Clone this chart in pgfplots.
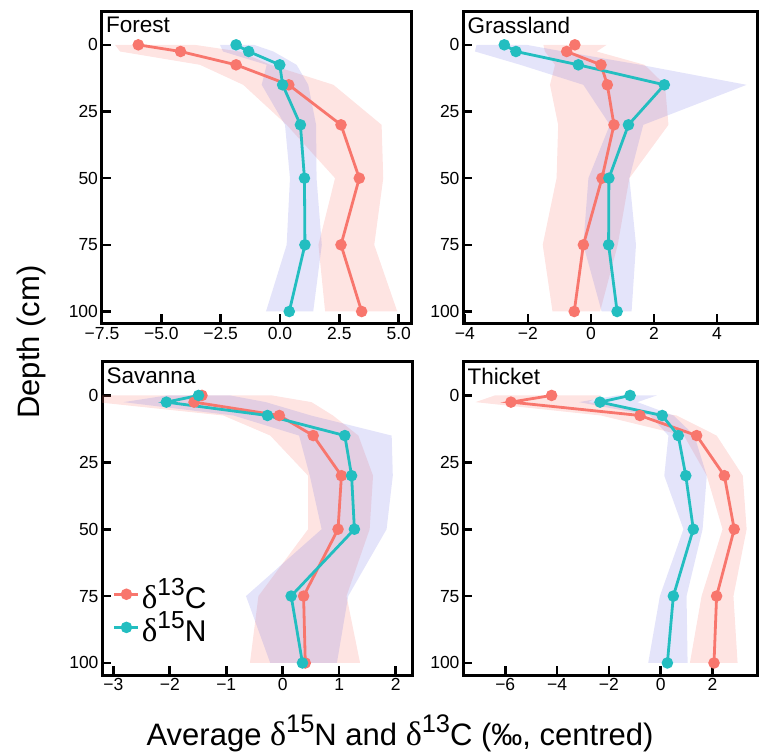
\documentclass[border=0pt]{standalone}
\usepackage{fontspec}
\setmainfont{Liberation Sans}
\newfontfamily\dfont{Liberation Serif}
\usepackage{pgfplots}
\pgfplotsset{compat=1.18}

\definecolor{cC}{RGB}{248,118,109}
\definecolor{cN}{RGB}{35,190,192}
\definecolor{bN}{RGB}{120,120,230}

\newcommand{\sups}[1]{\raisebox{0.42em}{\scalebox{0.82}{#1}}}
\newcommand{\iso}[2]{{\dfont\scalebox{1.1}{δ}}\sups{#1}#2}

\pgfplotsset{
  panel/.style={
    scale only axis, anchor=south west,
    y dir=reverse, ymin=-12.5, ymax=104.5,
    ytick={0,25,50,75,100},
    tick align=inside, tick pos=left,
    axis line style={line width=3pt},
    major tick length=9pt,
    every tick/.style={black, line width=2.6pt},
    ticklabel style={font=\fontsize{17.5}{19}\selectfont},
    /pgf/number format/assume math mode=true,
  },
  cline/.style={cC, line width=2.8pt, mark=*, mark size=4.3pt},
  nline/.style={cN, line width=2.8pt, mark=*, mark size=4.3pt},
  cband/.style={fill=cC, fill opacity=0.2, draw=none, forget plot},
  nband/.style={fill=bN, fill opacity=0.2, draw=none, forget plot},
}
\tikzset{ptitle/.style={anchor=north west, inner sep=0pt, xshift=4.5pt, yshift=-5.5pt,
    font=\fontsize{22.5}{24}\selectfont}}

\begin{document}
\begin{tikzpicture}
\path[use as bounding box] (0pt,0pt) rectangle (759pt,752pt);

% Forest
\begin{axis}[panel, at={(101.5pt,428.5pt)}, width=310pt, height=312pt,
  xmin=-7.52, xmax=5.54, xtick={-7.5,-5,-2.5,0,2.5,5},
  xticklabels={−7.5,−5.0,−2.5,0.0,2.5,5.0}]
\addplot[cband] coordinates {(-6.95,0) (-6.74,2.5) (-3.37,7.5) (-1.55,15) (0.28,30) (2.32,50) (1.62,75) (1.9,100)
  (4.94,100) (3.97,75) (4.35,50) (4.28,30) (2.25,15) (-0.4,7.5) (-1.7,2.5) (-3.6,0)};
\addplot[nband] coordinates {(-2.53,0) (-2.4,2.5) (-0.56,7.5) (-0.77,15) (0.21,30) (0.42,50) (0.28,75) (-0.59,100)
  (1.40,100) (1.76,75) (1.54,50) (1.52,30) (1.19,15) (0.7,7.5) (-0.28,2.5) (-1.1,0)};
\addplot[cline] coordinates {(-5.97,0) (-4.19,2.5) (-1.85,7.5) (0.37,15) (2.57,30) (3.34,50) (2.57,75) (3.44,100)};
\addplot[nline] coordinates {(-1.85,0) (-1.32,2.5) (-0.01,7.5) (0.11,15) (0.86,30) (1.03,50) (1.05,75) (0.39,100)};
\node[ptitle] at (rel axis cs:0,1) {Forest};
\end{axis}

% Grassland
\begin{axis}[panel, at={(463pt,428.5pt)}, width=294pt, height=312pt,
  xmin=-4.06, xmax=5.27, xtick={-4,-2,0,2,4},
  xticklabels={−4,−2,0,2,4}]
\addplot[cband] coordinates {(-1.51,0) (-1.46,2.5) (-1.14,7.5) (-1.30,15) (-1.04,30) (-1.09,50) (-1.53,75) (-1.22,100)
  (0.29,100) (0.85,75) (1.22,50) (2.46,30) (2.35,15) (1.7,7.5) (0.18,2.5) (0.5,0)};
\addplot[nband] coordinates {(-3.63,0) (-3.68,2.5) (-2.24,7.5) (-0.24,15) (0.6,30) (-0.08,50) (-0.24,75) (0.34,100)
  (1.29,100) (1.43,75) (1.22,50) (1.66,30) (4.94,15) (1.57,7.5) (-0.88,2.5) (-2.04,0)};
\addplot[cline] coordinates {(-0.51,0) (-0.77,2.5) (0.32,7.5) (0.52,15) (0.73,30) (0.35,50) (-0.24,75) (-0.53,100)};
\addplot[nline] coordinates {(-2.75,0) (-2.38,2.5) (-0.40,7.5) (2.33,15) (1.19,30) (0.57,50) (0.56,75) (0.83,100)};
\node[ptitle] at (rel axis cs:0,1) {Grassland};
\end{axis}

% Savanna
\begin{axis}[panel, at={(102pt,77pt)}, width=310pt, height=313pt,
  xmin=-3.20, xmax=2.29, xtick={-3,-2,-1,0,1,2},
  xticklabels={−3,−2,−1,0,1,2},
  legend style={at={(rel axis cs:0.035,0.315)}, anchor=north west, draw=none, fill=none,
    font=\fontsize{30}{32}\selectfont, row sep=-2pt, inner sep=0pt,
    nodes={inner sep=2pt}},
  legend cell align=left,
  legend image code/.code={\draw[mark repeat=2,mark phase=2] plot coordinates {(0pt,0pt) (12pt,0pt) (24pt,0pt)};}]
\addplot[cband] coordinates {(-3.4,0) (-3.3,2.5) (-1.05,7.5) (-0.22,15) (0.45,30) (0.45,50) (-0.43,75) (-0.58,100)
  (1.37,100) (1.13,75) (1.54,50) (1.6,30) (1.34,15) (0.89,7.5) (0.51,2.5) (-0.19,0)};
\addplot[nband] coordinates {(-2.05,0) (-2.82,2.5) (-0.87,7.5) (0.29,15) (0.48,30) (0.69,50) (-0.65,75) (-0.22,100)
  (0.96,100) (1.16,75) (1.84,50) (1.95,30) (1.93,15) (0.5,7.5) (-0.3,2.5) (-0.93,0)};
\addplot[cline] coordinates {(-1.43,0) (-1.57,2.5) (-0.06,7.5) (0.54,15) (1.04,30) (0.98,50) (0.37,75) (0.40,100)};
\addlegendentry{\iso{13}{C}}
\addplot[nline] coordinates {(-1.49,0) (-2.06,2.5) (-0.27,7.5) (1.10,15) (1.22,30) (1.27,50) (0.15,75) (0.35,100)};
\addlegendentry{\iso{15}{N}}
\node[ptitle] at (rel axis cs:0,1) {Savanna};
\end{axis}

% Thicket
\begin{axis}[panel, at={(463pt,77pt)}, width=294pt, height=313pt,
  xmin=-7.63, xmax=3.72, xtick={-6,-4,-2,0,2},
  xticklabels={−6,−4,−2,0,2}]
\addplot[cband] coordinates {(-6.4,0) (-7.15,2.5) (-2.3,7.5) (0.9,15) (1.78,30) (2.39,50) (1.58,75) (1.13,100)
  (2.97,100) (2.81,75) (3.32,50) (3.17,30) (2.16,15) (0.62,7.5) (-2.8,2.5) (-2.3,0)};
\addplot[nband] coordinates {(-1.7,0) (-3.15,2.5) (-0.41,7.5) (0.30,15) (0.14,30) (0.88,50) (-0.03,75) (-0.48,100)
  (1.04,100) (1.0,75) (1.62,50) (1.78,30) (1.3,15) (0.5,7.5) (-0.9,2.5) (-0.15,0)};
\addplot[cline] coordinates {(-4.21,0) (-5.78,2.5) (-0.80,7.5) (1.39,15) (2.46,30) (2.84,50) (2.16,75) (2.06,100)};
\addplot[nline] coordinates {(-1.18,0) (-2.34,2.5) (0.06,7.5) (0.68,15) (0.97,30) (1.26,50) (0.49,75) (0.26,100)};
\node[ptitle] at (rel axis cs:0,1) {Thicket};
\end{axis}

\node[rotate=90, font=\fontsize{31}{34}\selectfont] at (31pt,410pt) {Depth (cm)};
\node[font=\fontsize{31}{34}\selectfont] at (400pt,19pt) {Average \iso{15}{N} and \iso{13}{C} (‰, centred)};
\end{tikzpicture}
\end{document}
